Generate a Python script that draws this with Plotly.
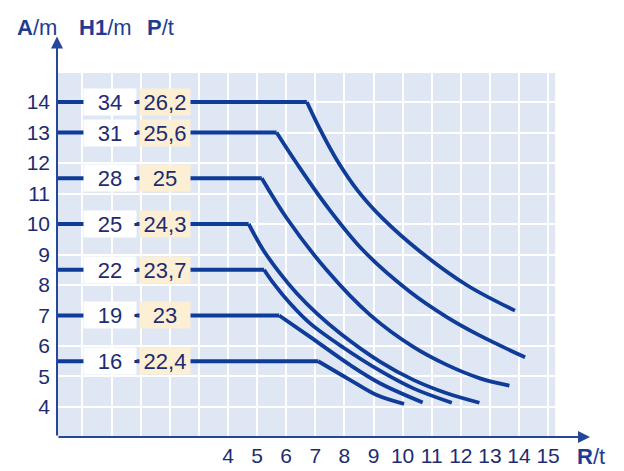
import plotly.graph_objects as go

# ---------------- data ----------------
A_levels = [14, 13, 11.5, 10, 8.5, 7, 5.5]
H1_labels = ["34", "31", "28", "25", "22", "19", "16"]
P_labels = ["26,2", "25,6", "25", "24,3", "23,7", "23", "22,4"]

x_tick_values = [4, 5, 6, 7, 8, 9, 10, 11, 12, 13, 14, 15]
y_tick_values = [4, 5, 6, 7, 8, 9, 10, 11, 12, 13, 14]

c1_R = [6.71, 7.16, 7.74, 8.47, 9.34, 10.60, 12.20, 13.86]
c1_A = [14.0, 13.11, 12.10, 11.08, 10.16, 9.10, 8.00, 7.16]
c2_R = [5.67, 6.36, 7.39, 8.65, 10.25, 11.52, 12.66, 14.21]
c2_A = [13.0, 11.99, 10.59, 9.13, 7.78, 6.95, 6.34, 5.63]
c3_R = [5.16, 6.02, 7.39, 8.88, 10.37, 11.52, 12.66, 13.67]
c3_A = [11.5, 10.19, 8.49, 7.02, 5.97, 5.38, 4.94, 4.70]
c4_R = [4.71, 5.21, 5.79, 6.36, 7.05, 7.85, 9.22, 10.37, 11.52, 12.64]
c4_A = [10.0, 9.15, 8.38, 7.73, 7.07, 6.42, 5.49, 4.89, 4.45, 4.14]
c5_R = [5.24, 5.56, 6.13, 6.82, 7.96, 9.22, 10.37, 11.69]
c5_A = [8.5, 8.06, 7.40, 6.74, 5.95, 5.19, 4.61, 4.14]
c6_R = [5.76, 6.82, 8.19, 9.22, 10.69]
c6_A = [7.0, 6.30, 5.38, 4.78, 4.15]
c7_R = [7.10, 8.19, 9.11, 10.05]
c7_A = [5.5, 4.89, 4.39, 4.10]

curves_R = [c1_R, c2_R, c3_R, c4_R, c5_R, c6_R, c7_R]
curves_A = [c1_A, c2_A, c3_A, c4_A, c5_A, c6_A, c7_A]

# ---------------- styling / layout constants ----------------
X_MIN, X_MAX = -1.876, 17.127
Y_MIN, Y_MAX = 3.016, 16.361
LINE_COL = "#0f3c99"
AXIS_COL = "#24479a"
TXT_COL = "#1d2c72"
HEAD_COL = "#1f3c92"
SHADE_COL = "#dfe6f4"
PBOX_COL = "#fcefd3"
FONT = "Liberation Sans, Arial, Helvetica, sans-serif"

fig = go.Figure()

for lvl, R, A in zip(A_levels, curves_R, curves_A):
    # horizontal part from the axis to the break point
    fig.add_trace(go.Scatter(x=[X_MIN, R[0]], y=[lvl, lvl], mode="lines",
                             line=dict(color=LINE_COL, width=3.8),
                             hoverinfo="skip"))
    # descending curve
    fig.add_trace(go.Scatter(x=R, y=A, mode="lines",
                             line=dict(color=LINE_COL, width=3.8, shape="spline", smoothing=1.0),
                             hoverinfo="skip"))

annotations = []
for lvl, h, p in zip(A_levels, H1_labels, P_labels):
    annotations.append(dict(x=-0.055, y=lvl, xref="x", yref="y", text=h, showarrow=False,
                            bgcolor="white", width=52, height=26, borderpad=0,
                            font=dict(size=22, color=TXT_COL)))
    annotations.append(dict(x=0.86, y=lvl, xref="x", yref="y", text="<b>·</b>", showarrow=False,
                            font=dict(size=20, color=TXT_COL)))
    annotations.append(dict(x=1.835, y=lvl, xref="x", yref="y", text=p, showarrow=False,
                            bgcolor=PBOX_COL, width=50, height=26, borderpad=0,
                            font=dict(size=22, color=TXT_COL)))

# headers (paper coordinates, outside the plotting area)
for txt, px, py in [("<b>A</b>/m", -0.036, 1.005), ("<b>H1</b>/m", 0.087, 1.005),
                    ("<b>P</b>/t", 0.188, 1.005), ("<b>R</b>/t", 0.966, -0.049)]:
    annotations.append(dict(x=px, y=py, xref="paper", yref="paper", text=txt,
                            xanchor="center", yanchor="middle",
                            showarrow=False, font=dict(size=22, color=HEAD_COL)))

# axes with arrow heads
annotations.append(dict(x=16.44, y=Y_MIN, ax=X_MIN, ay=Y_MIN, xref="x", yref="y",
                        axref="x", ayref="y", text="", showarrow=True, arrowhead=2,
                        arrowsize=1.2, arrowwidth=2, arrowcolor=AXIS_COL))
annotations.append(dict(x=X_MIN, y=16.15, ax=X_MIN, ay=Y_MIN, xref="x", yref="y",
                        axref="x", ayref="y", text="", showarrow=True, arrowhead=2,
                        arrowsize=1.2, arrowwidth=2, arrowcolor=AXIS_COL))

grid_x = list(range(-1, 16))
grid_y = list(range(4, 16))

fig.update_layout(
    width=616, height=463,
    margin=dict(l=49, r=14, t=22, b=34, autoexpand=False),
    plot_bgcolor="white", paper_bgcolor="white",
    showlegend=False,
    font=dict(family=FONT, size=22, color=TXT_COL),
    annotations=annotations,
    shapes=[dict(type="rect", xref="x", yref="y", x0=X_MIN, x1=15.24, y0=Y_MIN, y1=14.95,
                 fillcolor=SHADE_COL, line=dict(width=0), layer="below")],
    xaxis=dict(range=[X_MIN, X_MAX], tickvals=grid_x, automargin=False,
               ticktext=[str(v) if v in x_tick_values else "" for v in grid_x],
               showgrid=True, gridcolor="white", gridwidth=2, zeroline=False,
               showline=False, ticks="", ticklabelstandoff=4,
               tickfont=dict(size=21, color=TXT_COL)),
    yaxis=dict(range=[Y_MIN, Y_MAX], tickvals=grid_y, automargin=False,
               ticktext=[str(v) if v in y_tick_values else "" for v in grid_y],
               showgrid=True, gridcolor="white", gridwidth=2, zeroline=False,
               showline=False, ticks="", ticklabelstandoff=6,
               tickfont=dict(size=21, color=TXT_COL)),
)

fig.write_html("out.html")
